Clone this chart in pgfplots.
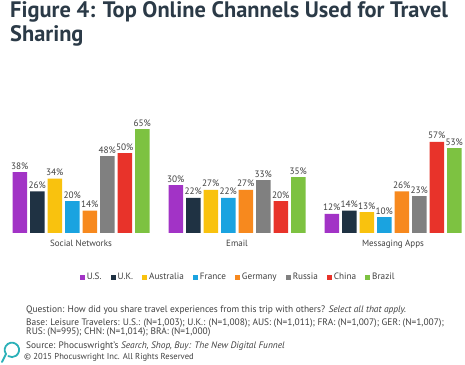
\documentclass[border=0pt]{standalone}
\usepackage{fontspec}
\setmainfont{PT Sans}
\usepackage{pgfplots}
\pgfplotsset{compat=1.18}
\definecolor{cUS}{HTML}{A233C6}
\definecolor{cUK}{HTML}{1F3243}
\definecolor{cAU}{HTML}{F9C20E}
\definecolor{cFR}{HTML}{1AA3E0}
\definecolor{cGE}{HTML}{F7891E}
\definecolor{cRU}{HTML}{808080}
\definecolor{cCN}{HTML}{E8332A}
\definecolor{cBR}{HTML}{7DC241}
\definecolor{titlec}{HTML}{2B3A47}
\definecolor{txt}{HTML}{404040}
\definecolor{logo}{HTML}{2AB0B8}
\begin{document}
\begin{tikzpicture}[x=1pt,y=1pt]
\path[use as bounding box,fill=white] (0,0) rectangle (465,364);
\node[anchor=base west,inner sep=0,text=titlec,font=\fontsize{22.4}{22}\selectfont\bfseries] at (10,346) {Figure 4: Top Online Channels Used for Travel};
\node[anchor=base west,inner sep=0,text=titlec,font=\fontsize{22.4}{22}\selectfont\bfseries] at (10,322) {Sharing};
\begin{axis}[
  at={(3pt,131pt)}, anchor=south west,
  scale only axis, width=460.2pt, height=128pt,
  xmin=-0.5, xmax=2.45, ymin=0, ymax=80,
  clip=false,
  axis line style={draw=none},
  ytick=\empty,
  xtick={0,1,2},
  xticklabels={Social Networks,Email,Messaging Apps},
  major tick length=0pt,
  xticklabel style={font=\fontsize{9}{9}\selectfont, text=txt, yshift=-4pt},
  /pgf/number format/assume math mode=true,
  ybar=3pt, bar width=14.5pt,
  nodes near coords={\pgfmathprintnumber{\pgfplotspointmeta}\%},
  every node near coord/.append style={font=\fontsize{9.3}{9.3}\selectfont, text=txt, inner sep=1.5pt, yshift=1pt},
  legend columns=8,
  legend style={at={(0.511,-0.344)}, anchor=center, draw=none, fill=none,
     font=\fontsize{9.2}{9.2}\selectfont, text=txt,
     /tikz/every even column/.append style={column sep=7pt}},
  legend cell align=left,
  legend image code/.code={\fill[#1] (0pt,-2.5pt) rectangle (5pt,2.5pt);},
]
\addplot[fill=cUS,draw=none] coordinates {(0,38) (1,30) (2,12)};
\addplot[fill=cUK,draw=none] coordinates {(0,26) (1,22) (2,14)};
\addplot[fill=cAU,draw=none] coordinates {(0,34) (1,27) (2,13)};
\addplot[fill=cFR,draw=none] coordinates {(0,20) (1,22) (2,10)};
\addplot[fill=cGE,draw=none] coordinates {(0,14) (1,27) (2,26)};
\addplot[fill=cRU,draw=none] coordinates {(0,48) (1,33) (2,23)};
\addplot[fill=cCN,draw=none] coordinates {(0,50) (1,20) (2,57)};
\addplot[fill=cBR,draw=none] coordinates {(0,65) (1,35) (2,53)};
\legend{U.S.,U.K.,Australia,France,Germany,Russia,China,Brazil}
\end{axis}
\begin{scope}[font=\fontsize{9.4}{9.4}\selectfont, text=txt]
\node[anchor=base west,inner sep=0] at (26,52) {Question: How did you share travel experiences from this trip with others? \textit{Select all that apply.}};
\node[anchor=base west,inner sep=0] at (26,38.5) {Base: Leisure Travelers: U.S.: (N=1,003); U.K.: (N=1,008); AUS: (N=1,011); FRA: (N=1,007); GER: (N=1,007);};
\node[anchor=base west,inner sep=0] at (26,29.5) {RUS: (N=995); CHN: (N=1,014); BRA: (N=1,000)};
\node[anchor=base west,inner sep=0] at (26,16) {Source: Phocuswright's \textit{Search, Shop, Buy: The New Digital Funnel}};
\node[anchor=base west,inner sep=0,font=\fontsize{8.6}{8.6}\selectfont] at (24,4.5) {\textcopyright{} 2015 Phocuswright Inc. All Rights Reserved};
\end{scope}
\draw[logo,line width=1.8pt,line cap=round] (2,2) .. controls (4,6) and (5,8) .. (6,10) arc[start angle=215,end angle=-120,radius=7.2];
\end{tikzpicture}
\end{document}
